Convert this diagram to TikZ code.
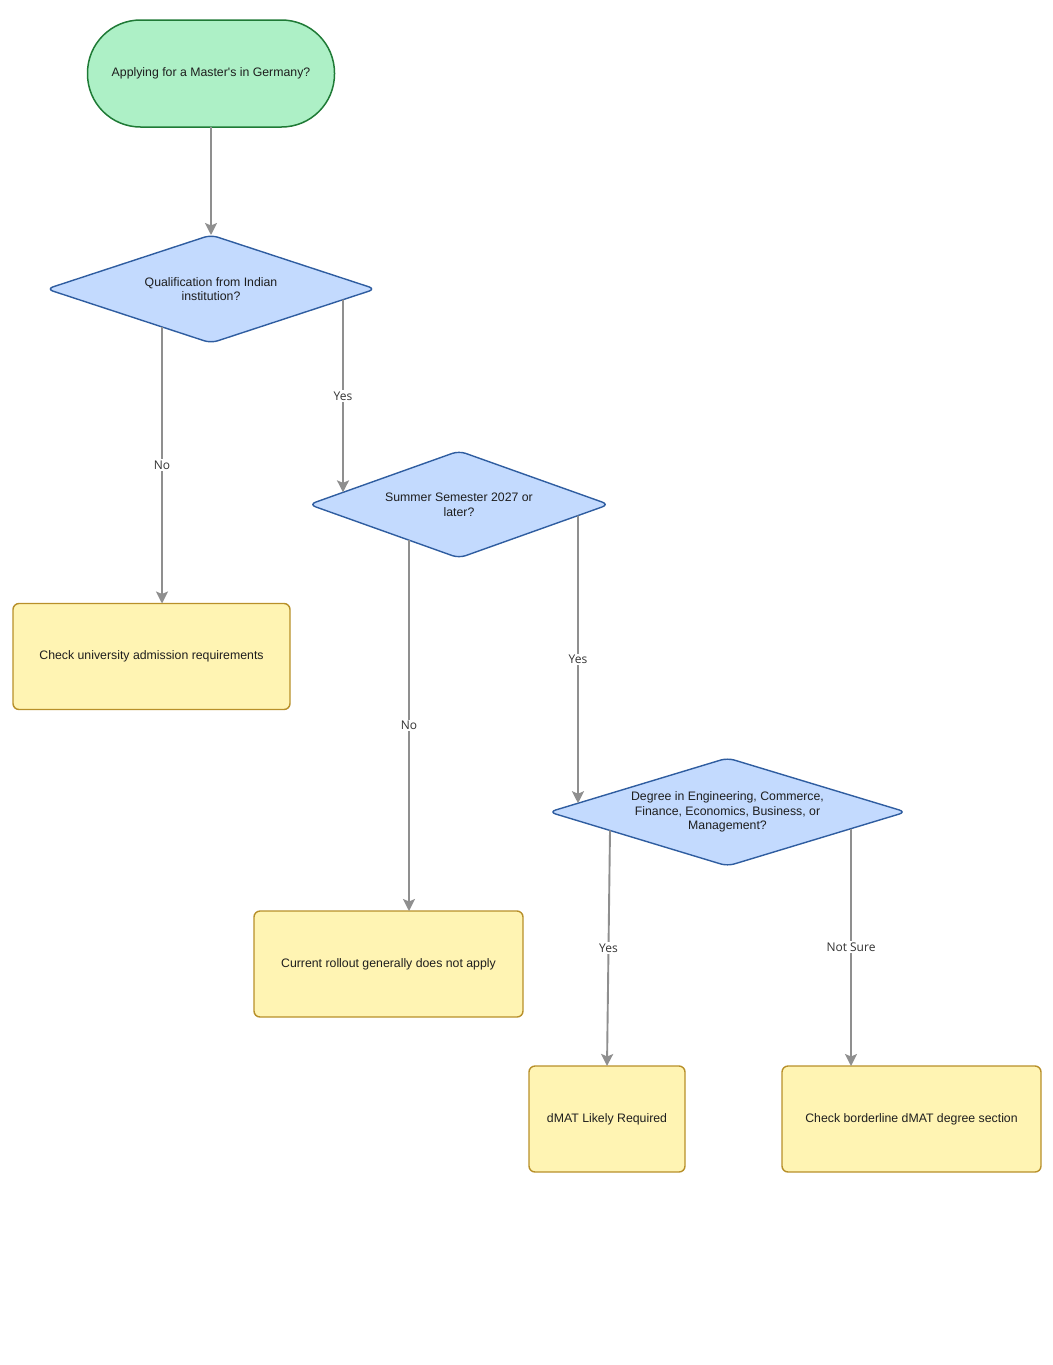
\documentclass[tikz,border=0pt]{standalone}
\usepackage{fontspec}
\setmainfont{Liberation Sans}
\newfontfamily\lblfont{Open Sans}
\usetikzlibrary{shapes.geometric,calc,arrows.meta}
\definecolor{startfill}{HTML}{ADF0C6}
\definecolor{startline}{HTML}{1F7A36}
\definecolor{decfill}{HTML}{C3DAFE}
\definecolor{decline}{HTML}{2F5DA0}
\definecolor{boxfill}{HTML}{FFF4B3}
\definecolor{boxline}{HTML}{B8902A}
\definecolor{edgecol}{HTML}{8F8F8F}
\definecolor{txt}{HTML}{1E1E1E}
\definecolor{lbltxt}{HTML}{333333}
\begin{document}
\begin{tikzpicture}[x=1pt,y=-1pt,
  nodefont/.style={font=\fontsize{12.3}{14.6}\selectfont, text=txt},
  startnode/.style={nodefont, draw=startline, fill=startfill, line width=1.5pt,
    rounded corners=53pt, minimum width=247pt, minimum height=107pt,
    inner sep=0pt, outer sep=0pt},
  decision/.style={nodefont, diamond, aspect=3, draw=decline, fill=decfill,
    line width=1.4pt, rounded corners=7pt, inner sep=0pt, outer sep=0pt, align=center},
  outcome/.style={nodefont, draw=boxline, fill=boxfill, line width=1.4pt,
    rounded corners=6pt, minimum height=106pt, inner sep=0pt, outer sep=0pt},
  edge/.style={draw=edgecol, line width=1.9pt,
    -{Stealth[length=12pt,width=12pt,inset=2.5pt]}},
  lbl/.style={fill=white, inner sep=1.5pt, text=lbltxt,
    font=\lblfont\fontsize{12}{14}\selectfont}
]
\useasboundingbox (0,0) rectangle (1052,1365);

\node[startnode] (start) at (211,73.5) {Applying for a Master\textquotesingle s in Germany?};

\node[decision, minimum width=329pt, minimum height=108pt] (d1) at (211,289)
  {Qualification from Indian\\institution?};
\node[decision, minimum width=300pt, minimum height=107pt] (d2) at (459,504.5)
  {Summer Semester 2027 or\\later?};
\node[decision, minimum width=357pt, minimum height=108pt] (d3) at (727.5,812)
  {Degree in Engineering, Commerce,\\Finance, Economics, Business, or\\Management?};

\node[outcome, minimum width=277pt] (b1) at (151.5,656.5) {Check university admission requirements};
\node[outcome, minimum width=269pt] (b2) at (388.5,964) {Current rollout generally does not apply};
\node[outcome, minimum width=156pt] (b3) at (607,1119) {dMAT Likely Required};
\node[outcome, minimum width=259pt] (b4) at (911.5,1119) {Check borderline dMAT degree section};

\coordinate (d1no)  at ($(d1.west)!0.70213!(d1.south)$);
\coordinate (d1yes) at ($(d1.east)!0.19757!(d1.south)$);
\coordinate (d2in)  at ($(d2.west)!0.22667!(d2.north)$);
\coordinate (d2no)  at ($(d2.west)!0.66667!(d2.south)$);
\coordinate (d2yes) at ($(d2.east)!0.20667!(d2.south)$);
\coordinate (d3in)  at ($(d3.west)!0.16246!(d3.north)$);
\coordinate (d3yes) at ($(d3.west)!0.34174!(d3.south)$);
\coordinate (d3ns)  at ($(d3.east)!0.30812!(d3.south)$);

\draw[edge] (start.south) -- (d1.north);
\draw[edge] (d1no) -- node[lbl]{No} (d1no |- b1.north);
\draw[edge] (d1yes) -- node[lbl]{Yes} (d2in);
\draw[edge] (d2no) -- node[lbl]{No} (d2no |- b2.north);
\draw[edge] (d2yes) -- node[lbl]{Yes} (d3in);
\draw[edge] (d3yes) -- node[lbl]{Yes} (b3.north);
\draw[edge] (d3ns) -- node[lbl]{Not Sure} (d3ns |- b4.north);
\end{tikzpicture}
\end{document}
